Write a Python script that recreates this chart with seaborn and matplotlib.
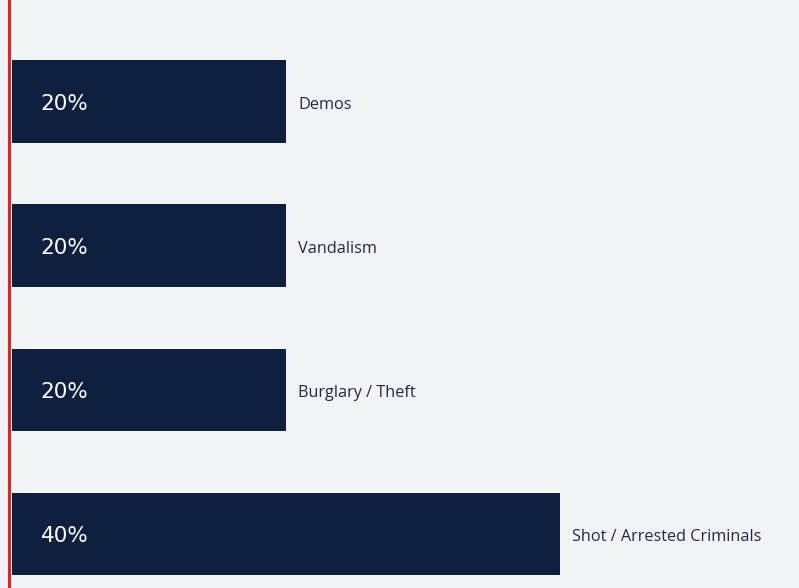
import matplotlib
matplotlib.use("Agg")
import matplotlib.pyplot as plt
import seaborn as sns
import pandas as pd

categories = ["Demos", "Vandalism", "Burglary / Theft", "Shot / Arrested Criminals"]
values = [20, 20, 20, 40]
value_labels = ["20%", "20%", "20%", "40%"]

BG = "#f2f3f5"
NAVY = "#0f1f40"
TEXT = "#1f2a4a"
RED = "#d9262b"

sns.set_theme(style="white")
plt.rcParams["font.family"] = ["Open Sans", "DejaVu Sans"]

df = pd.DataFrame({"category": categories, "value": values})

fig = plt.figure(figsize=(7.99, 5.88), dpi=100)
fig.patch.set_facecolor(BG)
ax = fig.add_axes([0, 0, 1, 1])
ax.set_facecolor(BG)

sns.barplot(data=df, y="category", x="value", orient="h", color=NAVY,
            width=0.576, saturation=1, linewidth=0, ax=ax)

ax.set_xlim(-12 / 13.7, (799 - 12) / 13.7)
ax.set_ylim(3.375, -0.708)
ax.axvline(-3 / 13.7, color=RED, lw=2.2, zorder=5)

for sp in ax.spines.values():
    sp.set_visible(False)
ax.set_xticks([])
ax.set_yticks([])
ax.set_xlabel("")
ax.set_ylabel("")

for i, (cat, v, lab) in enumerate(zip(categories, values, value_labels)):
    ax.annotate(lab, xy=(0, i), xytext=(20.5, -1.2), textcoords="offset points",
                ha="left", va="center", color="white", fontsize=15.5,
                fontfamily="DejaVu Sans")
    ax.annotate(cat, xy=(v, i), xytext=(9.0, -2), textcoords="offset points",
                ha="left", va="center", color=TEXT, fontsize=11.7)

fig.savefig("out.png", dpi=100, facecolor=BG)
